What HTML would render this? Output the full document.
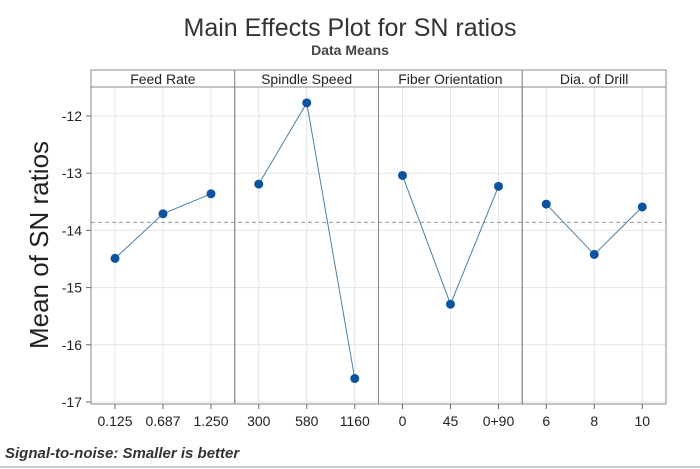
<!DOCTYPE html>
<html><head><meta charset="utf-8"><style>
body{margin:0;background:#fff;}
svg{display:block;font-family:"Liberation Sans",sans-serif;}
</style></head><body>
<svg id="chart" width="700" height="469">
<rect x="0" y="0" width="700" height="469" fill="#fff"/>
<text x="350" y="36" text-anchor="middle" font-size="25" fill="#333">Main Effects Plot for SN ratios</text>
<text x="350" y="55" text-anchor="middle" font-size="14" font-weight="bold" fill="#444">Data Means</text>
<text transform="translate(48,245) rotate(-90)" text-anchor="middle" font-size="26" fill="#222">Mean of SN ratios</text>
<text x="5" y="458" font-size="15" font-weight="bold" font-style="italic" fill="#333">Signal-to-noise: Smaller is better</text>
<line x1="0" y1="467" x2="700" y2="467" stroke="#999" stroke-width="1"/>
<g id="g"></g>
</svg>
<script>
const factors=["Feed Rate","Spindle Speed","Fiber Orientation","Dia. of Drill"];
const levels=[["0.125","0.687","1.250"],["300","580","1160"],["0","45","0+90"],["6","8","10"]];
const feedRate=[-14.49,-13.71,-13.36];
const spindleSpeed=[-13.19,-11.77,-16.59];
const fiberOrientation=[-13.04,-15.29,-13.23];
const diaOfDrill=[-13.54,-14.42,-13.59];
const series=[feedRate,spindleSpeed,fiberOrientation,diaOfDrill];
const grandMean=-13.86;
const yTicks=[-12,-13,-14,-15,-16,-17];

const NS="http://www.w3.org/2000/svg";
const g=document.getElementById('g');
const L=91,R=666,T=70,H=87,B=404,pw=(R-L)/4;
const y=v=>116+(-12-v)*57.2;
const x=(p,i)=>L+p*pw+24+i*48;
function mk(t,a){const e=document.createElementNS(NS,t);for(const k in a)e.setAttribute(k,a[k]);g.appendChild(e);return e;}
// gridlines
yTicks.forEach(t=>{
 let e=mk('line',{x1:L,x2:R,y1:y(t),y2:y(t),stroke:'#e4e4e4'});
 
 
 e=mk('line',{x1:L-5,x2:L,y1:y(t),y2:y(t),stroke:'#666'});
 
 
 e=mk('text',{x:L-9,y:y(t)+5,'text-anchor':'end','font-size':14,fill:'#222'});
 e.textContent=t;
 
 
});
factors.forEach((f,p)=>{
 levels[p].forEach((lv,i)=>{
  let e=mk('line',{x1:x(p,i),x2:x(p,i),y1:H,y2:B,stroke:'#e4e4e4'});
  
  
  e=mk('line',{x1:x(p,i),x2:x(p,i),y1:B,y2:B+5,stroke:'#666'});
  
  
  e=mk('text',{x:x(p,i),y:B+22,'text-anchor':'middle','font-size':14,fill:'#222'});
  e.textContent=lv;
  
  
 });
});
let ml=mk('line',{x1:L,x2:R,y1:y(grandMean),y2:y(grandMean),stroke:'#999','stroke-dasharray':'4,3'});


factors.forEach((f,p)=>{
 const x0=L+p*pw;
 let e=mk('rect',{x:x0,y:T,width:pw,height:H-T,fill:'#fff',stroke:'#888'});
 
 
 e=mk('text',{x:x0+pw/2,y:T+14,'text-anchor':'middle','font-size':14,fill:'#222'});
 e.textContent=f;
 
 
 e=mk('rect',{x:x0,y:H,width:pw,height:B-H,fill:'none',stroke:'#888'});
 
 
 const pts=series[p].map((v,i)=>x(p,i)+','+y(v)).join(' ');
 e=mk('polyline',{points:pts,fill:'none',stroke:'#4a7fa8','stroke-width':1});
 
 
 series[p].forEach((v,i)=>{
  const c=mk('circle',{cx:x(p,i),cy:y(v),r:4.5,fill:'#0c54a0'});
  
  
 });
});
</script>
</body></html>
